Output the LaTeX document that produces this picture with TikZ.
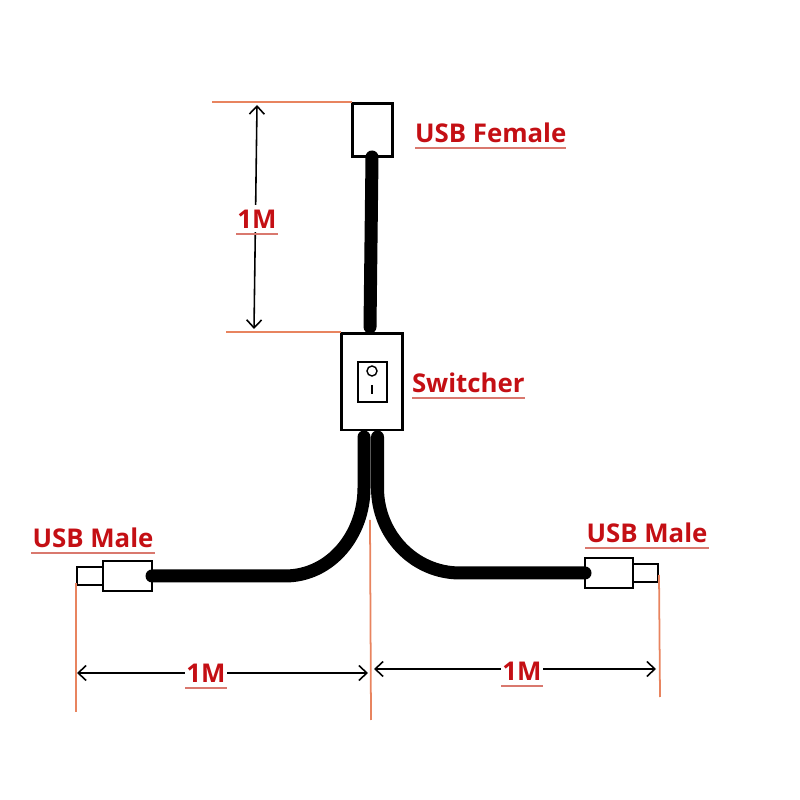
\documentclass[tikz,border=0pt]{standalone}
\usepackage{fontspec}
\setmainfont{Open Sans}
\usepackage{tikz}
\usetikzlibrary{arrows.meta,positioning}
\definecolor{labelred}{HTML}{C40F14}
\definecolor{lineorange}{HTML}{E8845F}
\definecolor{ulinered}{HTML}{D9786E}

\begin{document}
\begin{tikzpicture}[
    part/.style={draw, fill=white, line width=0.85pt, inner sep=0pt, outer sep=0pt},
    plug/.style={draw, fill=white, line width=0.55pt, inner sep=0pt, outer sep=0pt},
    cable/.style={line width=3.7pt, line cap=round},
    tag/.style={text=labelred, font=\bfseries\fontsize{7.35pt}{8pt}\selectfont, inner sep=0pt, outer sep=0pt, minimum height=0.27cm},
    uline/.style={ulinered, line width=0.45pt},
    mark line/.style={lineorange, line width=0.5pt},
    measure/.style={<->, >={Straight Barb[length=0.8mm,width=1.5mm]}, line width=0.45pt}
]
    \useasboundingbox (0,0) rectangle (8,8);

    % Connectors and switch
    \node[part, minimum width=0.40cm, minimum height=0.53cm] (female) at (3.72,6.695) {};
    \node[part, minimum width=0.61cm, minimum height=0.96cm] (switch) at (3.715,4.18) {};
    \node[plug, minimum width=0.29cm, minimum height=0.40cm] (rocker) at (3.725,4.18) {};
    \node[draw, circle, line width=0.4pt, minimum size=0.10cm, inner sep=0pt] (knob) at (3.72,4.29) {};
    \draw[line width=0.5pt] (3.72,4.15) coordinate (barhi) -- (3.72,4.06) coordinate (barlo);

    % USB male plugs
    \node[plug, minimum width=0.49cm, minimum height=0.30cm] (maleL) at (1.275,2.24) {};
    \node[plug, minimum width=0.26cm, minimum height=0.18cm, left=0pt of maleL] (tipL) {};
    \node[plug, minimum width=0.48cm, minimum height=0.30cm] (maleR) at (6.09,2.27) {};
    \node[plug, minimum width=0.25cm, minimum height=0.18cm, right=0pt of maleR] (tipR) {};

    % Cables
    \draw[cable] (female.south) -- ([xshift=-0.015cm,yshift=0.07cm]switch.north);
    \draw[cable] ([xshift=-0.075cm,yshift=-0.07cm]switch.south) -- ++(0,-0.51) to[out=-90, in=0] (2.85,2.24) -- (maleL.east);
    \draw[cable] ([xshift=0.06cm,yshift=-0.07cm]switch.south) -- ++(0,-0.51) to[out=-90, in=180] (4.60,2.27) -- (maleR.west);

    % Orange guide lines
    \coordinate (topA) at (2.12,6.98);
    \coordinate (topB) at (3.52,6.98);
    \coordinate (midA) at (2.26,4.68);
    \coordinate (midB) at (3.41,4.68);
    \coordinate (leftA) at (0.76,2.17);
    \coordinate (leftB) at (0.76,0.88);
    \coordinate (centerA) at (3.70,2.80);
    \coordinate (centerB) at (3.71,0.80);
    \coordinate (rightA) at (6.59,2.25);
    \coordinate (rightB) at (6.60,1.03);
    \draw[mark line] (topA) -- (topB);
    \draw[mark line] (midA) -- (midB);
    \draw[mark line] (leftA) -- (leftB);
    \draw[mark line] (centerA) -- (centerB);
    \draw[mark line] (rightA) -- (rightB);

    % Measures
    \coordinate (vertA) at (2.57,6.95);
    \coordinate (vertB) at (2.54,4.71);
    \coordinate (horLA) at (0.77,1.27);
    \coordinate (horLB) at (3.68,1.27);
    \coordinate (horRA) at (3.74,1.31);
    \coordinate (horRB) at (6.56,1.31);
    \draw[measure] (vertA) -- (vertB);
    \draw[measure] (horLA) -- (horLB);
    \draw[measure] (horRA) -- (horRB);

    % Labels
    \node[tag, fill=white, minimum width=0.42cm] (lenV) at (2.57,5.81) {1M};
    \node[tag, fill=white, minimum width=0.42cm] (lenL) at (2.06,1.27) {1M};
    \node[tag, fill=white, minimum width=0.42cm] (lenR) at (5.22,1.29) {1M};
    \node[tag, anchor=west] (femaleTag) at (4.15,6.67) {USB Female};
    \node[tag, anchor=west] (switchTag) at (4.12,4.17) {Switcher};
    \node[tag, anchor=west, minimum width=1.24cm] (maleTagL) at (0.31,2.62) {USB Male};
    \node[tag, anchor=west, minimum width=1.24cm] (maleTagR) at (5.85,2.67) {USB Male};
    \foreach \t in {lenV,lenL,lenR,femaleTag,switchTag,maleTagL,maleTagR}
        \draw[uline] ([yshift=-0.015cm]\t.south west) -- ([yshift=-0.015cm]\t.south east);
\end{tikzpicture}
\end{document}
